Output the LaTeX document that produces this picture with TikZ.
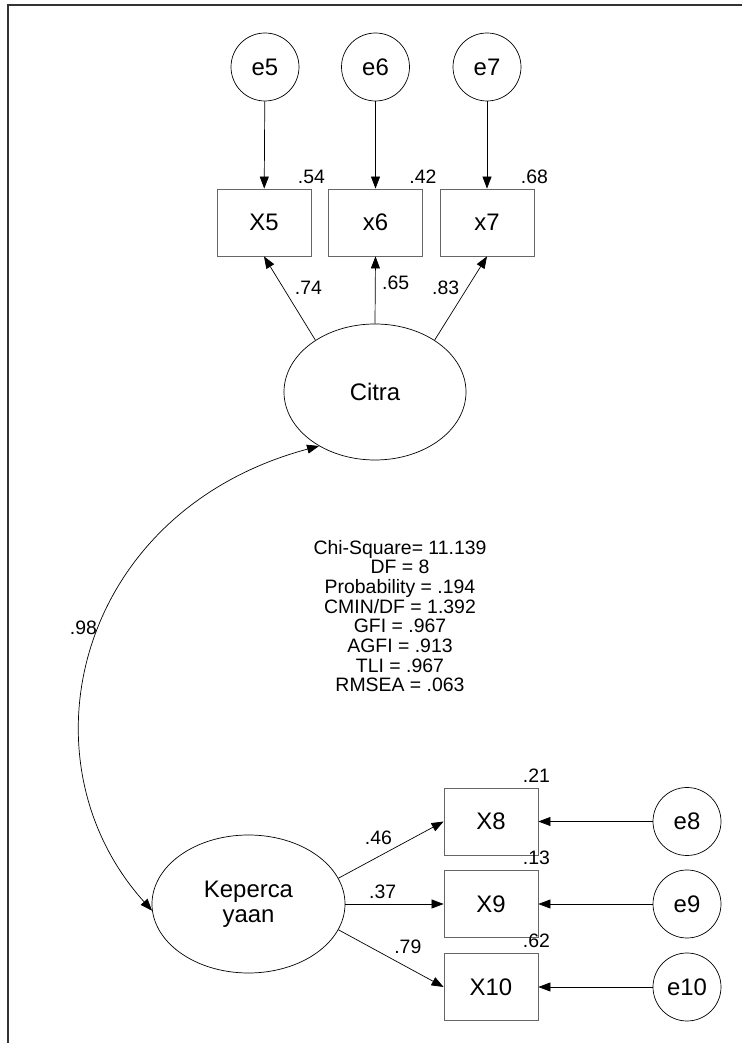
\documentclass[tikz,border=0pt]{standalone}
\usepackage{fontspec}
\setmainfont{Liberation Sans}
\usetikzlibrary{arrows.meta,positioning,shapes.geometric}

\begin{document}
\begin{tikzpicture}[x=1bp, y=1bp,
    obs/.style={rectangle, draw=black!60, line width=0.8bp, minimum width=94bp, minimum height=67bp, inner sep=0pt, font=\fontsize{24}{25}\selectfont},
    err/.style={circle, draw, line width=0.7bp, minimum size=68bp, inner sep=0pt, font=\fontsize{24}{25}\selectfont},
    lat/.style={ellipse, draw, line width=0.7bp, inner sep=0pt, align=center, font=\fontsize{24}{25}\selectfont},
    lbl/.style={inner sep=0pt, font=\fontsize{19.5}{19.7}\selectfont},
    arr/.style={-{Triangle[length=12bp,width=9bp]}, line width=0.7bp},
    dbl/.style={{Triangle[length=12bp,width=9bp]}-{Triangle[length=12bp,width=9bp]}, line width=0.7bp},
]
    \useasboundingbox (0,0) rectangle (742,1043);
    % frame
    \draw[line width=2bp, black!80] (8,0) -- (8,1038) -- (742,1038);

    % Citra block
    \node[err] (e5) at (265,976) {e5};
    \node[err] (e6) at (375.5,976) {e6};
    \node[err] (e7) at (487,976) {e7};
    \node[obs] (x5) at (264,820.5) {X5};
    \node[obs] (x6) at (375.5,820.5) {x6};
    \node[obs] (x7) at (487,820.5) {x7};
    \node[lat, minimum width=182bp, minimum height=136bp] (citra) at (375,651) {Citra};
    \draw[arr] (e5) -- (x5);
    \draw[arr] (e6) -- (x6);
    \draw[arr] (e7) -- (x7);
    \node[lbl, above=5bp] at (x5.north east) {.54};
    \node[lbl, above=5bp] at (x6.north east) {.42};
    \node[lbl, above=5bp] at (x7.north east) {.68};
    \draw[arr] (citra.139) -- (x5.south) node[lbl, pos=0.62, right=11bp] {.74};
    \draw[arr] (citra.north) -- (x6.south) node[lbl, pos=0.61, right=6.5bp] {.65};
    \draw[arr] (citra.41) -- (x7.south) node[lbl, pos=0.62, left=7.5bp] {.83};

    % fit indices
    \node[lbl, align=center] (fit) at (400,427) {Chi-Square= 11.139\\DF = 8\\Probability = .194\\CMIN/DF = 1.392\\GFI = .967\\AGFI = .913\\TLI = .967\\RMSEA = .063};

    % Kepercayaan block
    \node[lat, minimum width=193bp, minimum height=138bp] (keper) at (248.5,139) {Keperca\\yaan};
    \node[obs] (x8) at (491,221.5) {X8};
    \node[obs] (x9) at (491,139) {X9};
    \node[obs] (x10) at (491,56) {X10};
    \node[err] (e8) at (687,221.5) {e8};
    \node[err] (e9) at (687,139) {e9};
    \node[err] (e10) at (687,56) {e10};
    \draw[arr] (e8) -- (x8);
    \draw[arr] (e9) -- (x9);
    \draw[arr] (e10) -- (x10);
    \node[lbl, above=5bp, xshift=-2bp] at (x8.north east) {.21};
    \node[lbl, above=5bp, xshift=-2bp] at (x9.north east) {.13};
    \node[lbl, above=5bp, xshift=-2bp] at (x10.north east) {.62};
    \draw[arr] (keper.16) -- (x8.west) node[lbl, pos=0.38, above=11.5bp] {.46};
    \draw[arr] (keper.east) -- (x9.west) node[lbl, pos=0.38, above=5bp] {.37};
    \draw[arr] (keper.344) -- (x10.west) node[lbl, pos=0.66, above=13.5bp] {.79};

    % correlation
    \draw[dbl] (citra.224) to[out=195, in=132, out looseness=1.3, in looseness=1.05] node[lbl, pos=0.465, left=3bp] {.98} (keper.184);
\end{tikzpicture}
\end{document}
